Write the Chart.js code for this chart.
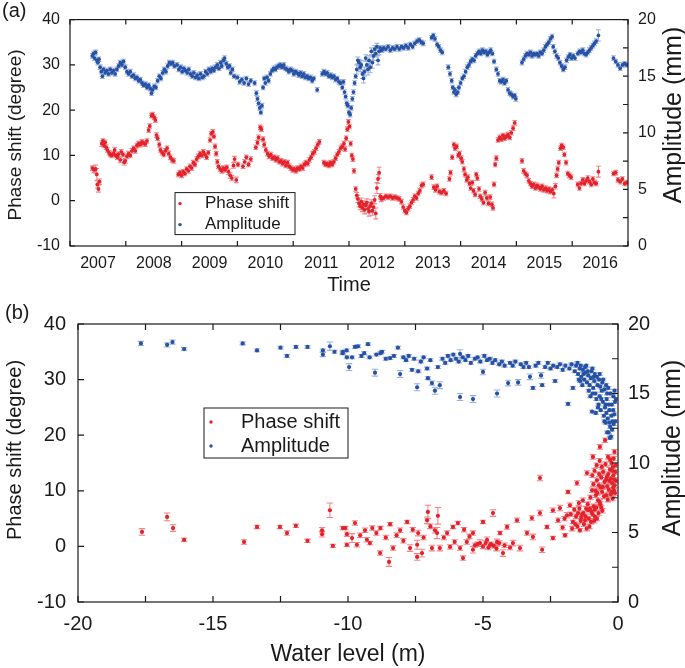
<!DOCTYPE html>
<html>
<head>
<meta charset="utf-8">
<script src="https://cdn.jsdelivr.net/npm/chart.js@4.4.1/dist/chart.umd.min.js"></script>
<style>
  body { margin: 0; background: #fff; }
  .panel { position: absolute; left: 0; width: 685px; }
  .tag { position: absolute; font: 20px "Liberation Sans", Arial, sans-serif; color: #1a1a1a; }
</style>
</head>
<body>
<div class="panel" style="top:0;height:300px"><canvas id="chartTime" width="685" height="300"></canvas></div>
<div class="panel" style="top:300px;height:368px"><canvas id="chartLevel" width="685" height="368"></canvas></div>
<div class="tag" style="left:2px;top:-1px">(a)</div>
<div class="tag" style="left:5px;top:301px">(b)</div>
<script>
// (a) phase shift vs time: [year, degree, error]
const phaseTime = [
  [2007.40,7.2,0.5],[2007.43,6.8,0.6],[2007.46,7.0,0.9],[2007.48,5.8,1.3],[2007.49,3.6,0.8],[2007.51,2.6,0.7],[2007.53,4.2,0.6],
  [2007.57,12.6,0.6],[2007.59,13.2,0.5],[2007.61,12.2,0.5],[2007.63,12.9,0.5],[2007.65,11.8,0.5],[2007.67,11.2,0.5],[2007.70,10.6,0.5],
  [2007.72,10.2,0.5],[2007.75,10.0,0.5],[2007.78,10.4,0.5],[2007.80,11.2,0.6],[2007.82,10.0,0.5],[2007.85,9.6,0.5],[2007.87,10.3,0.5],
  [2007.90,9.0,0.6],[2007.92,10.8,0.5],[2007.95,10.2,0.5],[2007.97,8.5,0.6],[2007.99,8.8,0.5],
  [2008.02,9.8,0.5],[2008.05,10.4,0.5],[2008.08,10.0,0.5],[2008.11,11.0,0.5],[2008.14,11.6,0.5],[2008.17,11.0,0.5],[2008.20,12.2,0.5],
  [2008.23,12.6,0.5],[2008.26,12.4,0.5],[2008.29,13.0,0.5],[2008.32,12.7,0.5],[2008.35,12.5,0.5],[2008.38,13.2,0.5],[2008.41,15.6,0.5],
  [2008.43,16.5,0.5],[2008.46,18.8,0.5],[2008.48,19.0,0.5],[2008.51,18.4,0.5],[2008.53,17.8,0.5],[2008.55,14.5,0.5],[2008.57,13.8,0.5],
  [2008.60,12.4,0.5],[2008.62,11.2,0.5],[2008.65,10.6,0.5],[2008.68,10.2,0.5],[2008.71,11.0,0.5],[2008.74,11.6,0.5],[2008.77,10.4,0.5],
  [2008.80,9.6,0.5],[2008.83,9.0,0.5],[2008.86,8.8,0.5],
  [2008.94,5.8,0.5],[2008.97,6.2,0.5],[2009.00,5.6,0.5],[2009.03,6.4,0.5],[2009.06,6.0,0.5],[2009.09,7.0,0.5],[2009.12,6.6,0.5],
  [2009.15,7.6,0.5],[2009.18,7.2,0.5],[2009.21,8.4,0.5],[2009.24,8.0,0.5],[2009.27,9.2,0.5],[2009.30,9.8,0.5],[2009.33,10.4,0.5],
  [2009.36,10.0,0.5],[2009.39,10.8,0.5],[2009.42,10.2,0.5],[2009.45,9.6,0.5],[2009.48,10.6,0.5],[2009.51,13.4,0.5],[2009.53,14.8,0.5],
  [2009.56,15.2,0.5],[2009.58,14.2,0.5],[2009.60,12.0,0.5],[2009.62,10.4,0.5],[2009.64,8.6,0.5],[2009.66,7.6,0.5],[2009.69,7.0,0.5],
  [2009.72,6.6,0.5],[2009.75,7.2,0.5],[2009.78,6.8,0.5],[2009.81,7.4,0.5],[2009.84,6.4,0.6],[2009.87,5.6,0.6],[2009.90,5.0,0.6],
  [2009.93,7.8,0.6],[2009.95,9.2,0.6],[2009.98,4.6,0.6],[2010.01,8.0,0.5],
  [2010.10,7.6,0.5],[2010.13,8.6,0.5],[2010.16,9.6,0.5],[2010.20,8.0,0.5],[2010.24,9.2,0.5],
  [2010.33,11.8,0.5],[2010.36,12.8,0.5],[2010.38,14.0,0.5],[2010.41,16.2,0.5],[2010.43,15.8,0.5],[2010.46,13.6,0.5],[2010.48,12.4,0.5],
  [2010.51,11.2,0.5],[2010.54,10.4,0.5],[2010.57,9.8,0.5],[2010.60,10.2,0.5],[2010.63,9.4,0.5],[2010.66,9.6,0.5],[2010.69,9.0,0.5],
  [2010.72,9.4,0.5],[2010.75,8.6,0.5],[2010.78,8.8,0.5],[2010.81,8.2,0.5],[2010.84,8.6,0.5],[2010.87,7.8,0.5],[2010.90,8.4,0.5],
  [2010.93,7.6,0.5],[2010.96,7.2,0.5],[2010.99,6.8,0.5],[2011.02,7.0,0.5],[2011.05,6.6,0.5],[2011.08,7.2,0.5],[2011.11,7.0,0.5],
  [2011.14,7.6,0.5],[2011.17,7.2,0.5],[2011.20,8.0,0.5],[2011.23,8.4,0.5],[2011.26,8.2,0.5],[2011.29,9.0,0.5],[2011.32,9.6,0.5],
  [2011.35,10.4,0.5],[2011.38,10.8,0.5],[2011.41,11.6,0.5],[2011.44,12.4,0.5],[2011.47,13.0,0.5],
  [2011.55,8.4,0.5],[2011.58,8.0,0.5],[2011.61,8.2,0.5],[2011.64,7.8,0.5],[2011.67,8.4,0.5],[2011.70,8.0,0.5],[2011.73,8.6,0.5],
  [2011.76,9.4,0.5],[2011.79,10.2,0.5],[2011.82,10.8,0.5],[2011.85,11.6,0.5],[2011.88,12.0,0.5],[2011.91,12.6,0.5],[2011.93,11.4,0.5],
  [2011.95,13.8,0.5],[2011.97,15.8,0.5],[2011.99,17.4,0.5],[2012.01,16.4,0.5],[2012.03,12.6,0.5],[2012.05,10.0,0.5],[2012.07,9.2,0.5],
  [2012.09,6.6,0.5],[2012.12,2.6,0.5],[2012.14,1.2,0.6],
  [2012.16,0.4,0.8],[2012.18,-0.6,0.8],[2012.20,-1.2,0.8],[2012.22,-0.2,0.8],[2012.24,-1.6,0.8],[2012.26,-0.8,0.8],[2012.28,-2.0,0.9],
  [2012.30,-1.0,0.8],[2012.32,-0.4,0.8],[2012.34,-1.8,0.9],[2012.36,-2.4,1.0],[2012.38,-1.2,0.9],[2012.40,-0.6,0.8],[2012.42,-2.2,1.0],
  [2012.44,-1.4,1.2],[2012.46,0.2,0.9],[2012.48,-2.8,1.2],[2012.50,2.8,1.2],[2012.52,4.8,1.0],[2012.54,6.2,1.2],[2012.56,1.0,0.6],
  [2012.58,0.4,0.6],
  [2012.62,0.6,0.5],[2012.66,1.0,0.5],[2012.70,0.8,0.5],[2012.74,1.0,0.5],[2012.78,0.6,0.5],[2012.82,0.8,0.5],[2012.86,0.6,0.5],
  [2012.90,0.4,0.5],[2012.94,-0.2,0.5],[2012.97,-1.4,0.5],[2013.00,-2.2,0.5],[2013.03,-2.6,0.5],[2013.06,-1.8,0.5],[2013.09,-1.2,0.5],
  [2013.12,-0.4,0.5],[2013.15,0.2,0.5],[2013.18,1.0,0.5],[2013.21,0.6,0.5],[2013.24,1.6,0.5],[2013.27,2.2,0.5],[2013.30,3.4,0.5],
  [2013.33,3.6,0.5],
  [2013.48,5.2,0.5],[2013.52,3.0,0.5],[2013.55,2.4,0.5],[2013.58,3.2,0.5],[2013.62,2.0,0.5],[2013.66,1.8,0.5],[2013.70,2.2,0.5],
  [2013.74,1.6,0.5],
  [2013.80,4.8,0.5],[2013.82,6.2,0.5],[2013.85,9.6,0.5],[2013.88,12.4,0.5],[2013.90,11.6,0.5],[2013.93,12.0,0.5],[2013.96,10.0,0.5],
  [2013.98,10.4,0.5],[2014.01,9.4,0.5],[2014.03,8.6,0.5],[2014.06,7.0,0.5],[2014.08,5.8,0.5],[2014.11,4.6,0.5],[2014.13,5.2,0.5],
  [2014.16,3.8,0.5],[2014.18,2.8,0.5],[2014.21,4.0,0.5],[2014.23,2.2,0.5],[2014.26,1.4,0.5],[2014.28,5.8,0.5],[2014.30,5.0,0.5],
  [2014.33,2.6,0.5],[2014.35,1.0,0.5],[2014.38,0.4,0.5],[2014.41,-0.4,0.5],[2014.44,1.8,0.5],[2014.47,0.6,0.5],[2014.50,-0.6,0.5],
  [2014.53,0.8,0.5],[2014.56,-0.8,0.5],[2014.58,-1.6,0.5],[2014.60,3.6,0.5],[2014.62,8.0,0.5],[2014.64,9.4,0.5],
  [2014.67,13.4,0.5],[2014.70,14.0,0.5],[2014.73,13.6,0.5],[2014.76,14.4,0.5],[2014.79,13.8,0.5],[2014.82,14.2,0.5],[2014.85,14.6,0.5],
  [2014.88,14.0,0.5],[2014.91,15.0,0.5],[2014.94,16.0,0.5],[2014.97,17.2,0.5],
  [2015.10,8.8,0.5],[2015.13,6.6,0.5],[2015.16,6.0,0.5],[2015.19,5.6,0.5],[2015.22,4.4,0.5],[2015.25,3.8,0.5],[2015.28,3.2,0.5],
  [2015.31,3.6,0.5],[2015.34,2.8,0.5],[2015.37,3.4,0.5],[2015.40,3.0,0.5],[2015.43,2.6,0.5],[2015.46,3.2,0.5],[2015.49,2.4,0.5],
  [2015.52,2.8,0.5],[2015.55,2.2,0.5],[2015.58,2.6,0.5],[2015.61,2.0,0.5],[2015.64,2.4,0.5],[2015.67,1.6,1.0],[2015.70,3.2,0.6],
  [2015.72,5.6,0.5],[2015.74,7.0,0.5],[2015.76,8.4,0.5],[2015.79,11.6,0.5],[2015.81,12.2,0.5],[2015.84,11.8,0.5],[2015.86,10.2,0.5],
  [2015.89,8.4,0.5],[2015.92,6.0,0.5],[2015.95,5.6,0.5],[2015.98,5.2,0.5],
  [2016.10,3.6,0.5],[2016.13,2.8,0.5],[2016.16,3.8,0.5],[2016.19,4.6,0.5],[2016.22,3.8,0.5],[2016.25,4.4,0.5],[2016.28,5.0,0.5],
  [2016.31,4.2,0.5],[2016.34,3.6,0.5],[2016.37,4.8,0.5],[2016.40,4.0,0.5],[2016.43,3.8,0.5],[2016.47,6.4,1.2],
  [2016.74,6.0,0.5],[2016.78,6.2,0.5],[2016.82,4.6,0.5],[2016.86,4.2,0.5],[2016.90,4.8,0.5],[2016.94,3.8,0.5],[2016.98,4.0,0.5]
];

// (a) amplitude vs time: [year, mm, error]
const ampTime = [
  [2007.40,16.8,0.2],[2007.42,17.0,0.2],[2007.44,16.6,0.2],[2007.46,17.1,0.2],[2007.48,16.4,0.2],[2007.50,16.2,0.2],[2007.52,16.5,0.2],
  [2007.54,15.8,0.2],[2007.56,15.4,0.2],[2007.58,15.0,0.2],[2007.60,15.6,0.2],[2007.63,15.3,0.2],[2007.66,15.5,0.2],[2007.69,15.2,0.2],
  [2007.72,15.6,0.2],[2007.75,15.3,0.2],[2007.78,15.5,0.2],[2007.81,15.2,0.2],[2007.84,15.6,0.2],[2007.87,15.9,0.2],[2007.90,16.2,0.2],
  [2007.93,16.0,0.2],[2007.96,16.3,0.2],[2007.99,15.8,0.2],
  [2008.02,15.4,0.2],[2008.05,15.2,0.2],[2008.08,15.4,0.2],[2008.11,15.0,0.2],[2008.14,15.1,0.2],[2008.17,14.8,0.2],[2008.20,14.9,0.2],
  [2008.23,14.6,0.2],[2008.26,14.7,0.2],[2008.29,14.4,0.2],[2008.32,14.2,0.2],[2008.35,14.3,0.2],[2008.38,14.0,0.2],[2008.41,14.2,0.2],
  [2008.44,13.9,0.2],[2008.46,13.5,0.2],[2008.48,13.8,0.2],[2008.51,14.1,0.2],[2008.54,14.0,0.2],[2008.57,14.6,0.2],[2008.60,15.0,0.2],
  [2008.63,14.8,0.2],[2008.66,15.3,0.2],[2008.69,15.6,0.2],[2008.72,15.4,0.2],[2008.75,15.9,0.2],[2008.78,16.2,0.2],[2008.81,16.1,0.2],
  [2008.84,16.2,0.2],[2008.87,15.9,0.2],
  [2008.92,16.0,0.2],[2008.95,15.6,0.2],[2008.98,15.8,0.2],[2009.01,15.4,0.2],[2009.04,15.7,0.2],[2009.07,15.5,0.2],[2009.10,15.3,0.2],
  [2009.13,15.6,0.2],[2009.16,15.2,0.2],[2009.19,15.0,0.2],[2009.22,15.3,0.2],[2009.25,14.9,0.2],[2009.28,15.1,0.2],[2009.31,14.8,0.2],
  [2009.34,15.2,0.2],[2009.37,14.9,0.2],[2009.40,15.0,0.2],[2009.43,15.4,0.2],[2009.46,15.2,0.2],[2009.49,15.6,0.2],[2009.52,15.4,0.2],
  [2009.55,15.7,0.2],[2009.58,15.5,0.2],[2009.61,15.8,0.2],[2009.64,16.0,0.2],[2009.67,15.7,0.2],[2009.70,16.2,0.2],[2009.72,15.9,0.2],
  [2009.75,16.4,0.2],[2009.77,16.6,0.2],[2009.80,16.1,0.2],[2009.83,15.8,0.2],[2009.86,15.9,0.2],[2009.88,15.3,0.2],[2009.91,15.6,0.2],
  [2009.94,15.0,0.2],
  [2010.00,14.9,0.2],[2010.04,14.5,0.2],[2010.08,14.7,0.2],[2010.12,14.4,0.2],[2010.16,14.8,0.2],[2010.20,14.3,0.2],[2010.24,14.6,0.2],
  [2010.31,14.4,0.2],[2010.34,13.5,0.2],[2010.36,13.0,0.2],[2010.38,12.6,0.2],[2010.40,12.2,0.2],[2010.42,11.8,0.2],[2010.44,12.4,0.2],
  [2010.46,14.0,0.2],[2010.48,14.8,0.2],[2010.50,14.4,0.2],[2010.53,14.9,0.2],[2010.56,14.6,0.2],[2010.59,15.2,0.2],[2010.62,15.5,0.2],
  [2010.65,15.7,0.2],[2010.68,15.6,0.2],[2010.71,15.8,0.2],[2010.74,15.9,0.2],[2010.77,16.0,0.2],[2010.80,15.8,0.2],[2010.83,16.0,0.2],
  [2010.86,15.7,0.2],[2010.89,15.6,0.2],[2010.92,15.4,0.2],[2010.95,15.6,0.2],[2010.98,15.5,0.2],[2011.01,15.2,0.2],[2011.04,15.4,0.2],
  [2011.07,15.3,0.2],[2011.10,15.1,0.2],[2011.13,15.3,0.2],[2011.16,15.0,0.2],[2011.19,15.2,0.2],[2011.22,14.9,0.2],[2011.25,15.0,0.2],
  [2011.28,14.8,0.2],[2011.31,14.9,0.2],[2011.34,14.6,0.2],[2011.37,14.8,0.2],[2011.43,13.8,0.2],
  [2011.52,15.2,0.2],[2011.55,15.4,0.2],[2011.58,15.2,0.2],[2011.61,15.3,0.2],[2011.64,15.0,0.2],[2011.67,15.1,0.2],[2011.70,14.9,0.2],
  [2011.73,15.0,0.2],[2011.76,14.7,0.2],[2011.79,14.8,0.2],[2011.82,14.5,0.2],[2011.85,14.4,0.2],[2011.88,14.0,0.2],[2011.90,14.5,0.2],
  [2011.92,13.6,0.2],[2011.94,13.2,0.2],[2011.96,12.6,0.2],[2011.98,12.4,0.2],[2012.00,11.8,0.2],[2012.02,11.6,0.2],[2012.04,12.2,0.2],
  [2012.06,13.0,0.2],[2012.08,13.6,0.2],[2012.10,14.4,0.2],[2012.12,15.0,0.2],
  [2012.14,15.6,0.4],[2012.16,16.4,0.3],[2012.18,16.2,0.3],[2012.20,15.8,0.4],[2012.22,16.0,0.4],[2012.24,15.2,0.4],[2012.26,14.8,0.4],
  [2012.28,15.4,0.4],[2012.30,16.6,0.3],[2012.32,16.0,0.4],[2012.34,15.6,0.5],[2012.36,16.4,0.4],[2012.38,15.8,0.5],[2012.40,17.2,0.3],
  [2012.42,16.2,0.5],[2012.44,16.8,0.4],[2012.46,17.4,0.3],[2012.48,17.0,0.3],[2012.50,17.6,0.3],[2012.52,16.4,0.4],[2012.54,17.2,0.3],
  [2012.56,17.5,0.2],[2012.59,17.3,0.2],
  [2012.62,17.5,0.2],[2012.66,17.4,0.2],[2012.70,17.6,0.2],[2012.74,17.3,0.2],[2012.78,17.5,0.2],[2012.82,17.4,0.2],[2012.86,17.6,0.2],
  [2012.90,17.4,0.2],[2012.94,17.6,0.2],[2012.98,17.5,0.2],[2013.02,17.7,0.2],[2013.06,17.5,0.2],[2013.10,17.8,0.2],[2013.14,17.6,0.2],
  [2013.18,17.9,0.2],[2013.22,18.1,0.2],[2013.26,18.2,0.2],[2013.30,18.0,0.2],[2013.33,17.9,0.2],
  [2013.48,18.4,0.2],[2013.51,18.6,0.2],[2013.54,18.3,0.2],[2013.58,17.8,0.2],[2013.61,17.6,0.2],[2013.64,17.3,0.2],[2013.67,17.1,0.2],
  [2013.78,15.8,0.2],[2013.81,15.2,0.2],[2013.84,14.6,0.2],[2013.86,14.0,0.2],[2013.88,13.6,0.2],[2013.90,13.8,0.2],[2013.92,13.4,0.2],
  [2013.95,13.6,0.2],[2013.97,14.0,0.2],[2014.00,14.4,0.2],[2014.03,14.8,0.2],[2014.06,15.0,0.2],[2014.09,15.4,0.2],[2014.12,15.8,0.2],
  [2014.15,16.0,0.2],[2014.18,16.3,0.2],[2014.21,16.5,0.2],[2014.24,16.4,0.2],[2014.27,16.8,0.2],[2014.30,17.0,0.2],[2014.33,17.2,0.2],
  [2014.36,17.0,0.2],[2014.39,17.3,0.2],[2014.42,17.1,0.2],[2014.45,17.2,0.2],[2014.48,16.9,0.2],[2014.51,17.1,0.2],[2014.54,17.3,0.2],
  [2014.57,17.0,0.2],[2014.60,16.3,0.2],
  [2014.64,15.6,0.2],[2014.67,15.2,0.2],[2014.70,14.6,0.2],[2014.73,14.5,0.2],[2014.76,14.7,0.2],[2014.79,14.4,0.2],[2014.82,14.6,0.2],
  [2014.85,13.8,0.2],[2014.88,13.5,0.2],[2014.91,13.4,0.2],[2014.94,13.2,0.2],[2014.97,13.3,0.2],[2014.99,13.0,0.2],
  [2015.10,16.2,0.2],[2015.13,16.5,0.2],[2015.16,16.8,0.2],[2015.19,17.0,0.2],[2015.22,16.9,0.2],[2015.25,17.1,0.2],[2015.28,16.8,0.2],
  [2015.31,17.0,0.2],[2015.34,16.9,0.2],[2015.37,17.0,0.2],[2015.40,16.8,0.2],[2015.43,17.1,0.2],[2015.46,17.0,0.2],[2015.49,17.3,0.2],
  [2015.52,17.6,0.2],[2015.55,17.8,0.2],[2015.58,18.0,0.2],[2015.61,18.3,0.2],[2015.64,18.5,0.2],[2015.66,17.6,0.2],[2015.69,17.2,0.2],
  [2015.72,16.8,0.2],[2015.75,16.6,0.2],[2015.78,16.2,0.2],[2015.81,15.9,0.2],[2015.84,15.6,0.2],[2015.87,15.8,0.2],[2015.90,16.4,0.2],
  [2015.93,16.7,0.2],[2015.96,16.9,0.2],[2015.99,16.6,0.2],[2016.02,16.8,0.2],[2016.05,16.6,0.2],
  [2016.10,17.0,0.2],[2016.13,17.2,0.2],[2016.16,17.1,0.2],[2016.19,17.3,0.2],[2016.22,17.0,0.2],[2016.25,16.9,0.2],[2016.28,17.1,0.2],
  [2016.31,17.3,0.2],[2016.34,17.5,0.2],[2016.37,17.7,0.2],[2016.40,17.9,0.2],[2016.43,18.1,0.2],[2016.47,18.6,0.5],
  [2016.74,16.6,0.2],[2016.78,16.3,0.2],[2016.82,16.0,0.2],[2016.86,15.7,0.2],[2016.90,16.0,0.2],[2016.94,16.1,0.2],[2016.98,16.0,0.2]
];

// (b) phase shift vs water level: [m, degree, error]
const phaseLevel = [
  [-17.63,2.6,0.6],[-16.70,5.3,0.7],[-16.48,3.3,0.6],[-16.07,1.2,0.3],[-13.85,0.8,0.4],[-13.37,3.5,0.3],[-12.52,3.5,0.3],
  [-12.26,2.4,0.4],[-11.93,3.7,0.3],[-11.50,1.0,0.3],[-10.96,2.9,0.5],[-10.96,2.2,0.5],[-10.67,6.5,1.3],[-10.56,0.1,0.3],
  [-10.19,3.3,0.3],[-10.04,2.2,0.4],[-10.04,0.3,0.3],
  [-10.10,3.3,0.3],[-9.85,1.5,0.8],[-9.74,4.2,0.4],[-9.67,0.3,0.4],[-9.55,2.0,0.4],[-9.37,2.9,0.4],[-9.30,1.2,0.4],[-9.19,0.6,0.3],
  [-9.10,3.3,0.4],[-8.95,2.4,0.4],[-8.81,-1.2,0.4],[-8.80,3.3,0.3],[-8.60,1.6,0.4],[-8.48,-2.8,0.8],[-8.44,4.0,0.3],[-8.33,-0.3,0.4],
  [-8.20,2.0,0.4],[-8.07,2.9,0.4],[-7.95,1.0,0.4],[-7.81,4.4,0.3],[-7.70,-0.3,0.6],[-7.60,3.0,0.4],[-7.44,0.3,0.8],[-7.44,-1.9,0.6],
  [-7.40,2.4,0.5],[-7.26,-1.2,0.7],[-7.20,1.6,0.4],[-7.07,4.7,0.6],[-7.04,6.2,1.2],[-6.95,3.6,0.4],[-6.89,-0.3,0.5],[-6.78,2.9,0.5],
  [-6.70,2.4,1.0],[-6.67,5.5,1.5],[-6.60,-0.3,0.5],[-6.45,1.6,0.4],[-6.33,2.4,0.4],[-6.22,-0.1,0.4],[-6.11,3.5,0.3],[-6.05,0.8,0.4],
  [-5.93,4.2,0.3],[-5.85,-0.3,0.4],[-5.74,-2.1,0.4],[-5.70,3.0,0.4],[-5.60,0.8,0.4],[-5.50,1.8,0.4],[-5.37,-0.6,0.6],[-5.37,2.4,0.4],
  [-5.30,0.2,0.4],[-5.20,0.4,0.4],[-5.11,0.6,0.6],[-5.00,4.4,0.3],[-5.00,0.0,0.4],[-4.90,0.6,0.4],[-4.85,1.2,0.5],[-4.80,-0.2,0.4],
  [-4.74,0.3,0.5],[-4.70,0.4,0.4],[-4.63,6.0,0.6],[-4.60,0.1,0.4],[-4.50,-0.4,0.4],[-4.48,0.8,0.5],[-4.40,0.6,0.4],[-4.37,2.4,0.3],
  [-4.26,-1.2,0.6],[-4.20,0.2,0.4],[-4.11,3.5,0.4],[-4.00,-0.2,0.4],[-3.89,0.6,0.5],[-3.74,4.7,0.4],[-3.63,-0.3,0.5],[-3.37,2.4,0.4],
  [-3.19,5.1,0.4],[-3.15,1.7,0.5],[-2.89,12.3,0.5],[-2.89,6.0,0.5],[-2.81,-0.6,0.5],[-2.63,3.5,0.3],[-2.41,1.5,0.3],[-2.41,6.5,0.4],
  [-2.22,4.7,0.4],[-2.15,6.9,0.5],[-2.05,3.4,0.4],[-1.98,5.0,0.4],[-1.96,2.0,0.3],[-1.89,5.6,0.5],[-1.85,9.8,0.3],[-1.78,7.4,0.4],
  [-1.75,5.8,0.4],[-1.70,3.2,0.4],[-1.67,4.4,0.3],[-1.62,6.6,0.4],[-1.58,4.0,0.4],[-1.55,5.4,0.4],[-1.52,11.4,0.4],[-1.50,3.6,0.4],
  [-1.48,6.0,0.4],[-1.45,7.8,0.4],[-1.43,6.8,0.4],[-1.41,2.9,0.3],[-1.38,4.6,0.4],[-1.36,5.2,0.4],[-1.33,5.8,0.4],[-1.30,8.3,0.4],
  [-1.28,6.0,0.4],[-1.26,4.0,0.4],[-1.22,4.7,0.3],[-1.20,5.4,0.4],[-1.18,6.8,0.4],[-1.16,3.2,0.4],[-1.15,13.2,0.4],[-1.12,7.6,0.4],
  [-1.11,6.5,0.3],[-1.08,5.0,0.4],[-1.06,3.6,0.4],[-1.04,6.8,0.4],[-1.02,8.8,0.4],[-1.00,4.4,0.4],[-0.98,6.2,0.4],[-0.96,10.1,0.4],
  [-0.95,12.8,0.4],[-0.94,5.8,0.4],[-0.93,16.1,0.4],[-0.91,11.2,0.4],[-0.90,7.2,0.4],[-0.88,4.6,0.4],[-0.87,13.6,0.4],[-0.86,6.6,0.4],
  [-0.85,5.3,0.4],[-0.83,10.0,0.4],[-0.82,9.2,0.4],[-0.80,7.0,0.4],[-0.79,14.6,0.4],[-0.78,11.9,0.4],[-0.78,5.0,0.4],[-0.76,9.6,0.4],
  [-0.74,8.3,0.4],[-0.72,6.0,0.4],[-0.71,11.0,0.4],[-0.70,13.0,0.4],[-0.68,15.4,0.4],[-0.68,8.0,0.4],[-0.67,17.9,0.4],[-0.66,7.6,0.4],
  [-0.64,10.6,0.4],[-0.62,12.4,0.4],[-0.62,7.0,0.4],[-0.60,14.3,0.4],[-0.59,9.8,0.4],[-0.58,6.4,0.4],[-0.56,10.7,0.4],[-0.55,13.4,0.4],
  [-0.52,9.0,0.4],[-0.50,11.6,0.4],[-0.48,19.1,0.4],[-0.46,14.8,0.4],[-0.44,12.0,0.4],[-0.43,9.2,0.4],[-0.41,12.5,0.4],[-0.40,10.8,0.4],
  [-0.38,8.4,0.4],[-0.37,16.1,0.4],[-0.36,13.0,0.4],[-0.34,10.2,0.4],[-0.32,11.8,0.4],[-0.30,13.8,0.4],[-0.29,15.6,0.4],[-0.27,9.4,0.4],
  [-0.26,12.2,0.4],[-0.24,15.0,0.4],[-0.23,9.8,0.4],[-0.22,11.4,0.4],[-0.21,13.6,0.4],[-0.20,8.6,0.4],[-0.19,14.3,0.4],[-0.18,10.6,0.4],
  [-0.17,12.8,0.4],[-0.16,15.8,0.4],[-0.15,10.0,0.4],[-0.14,12.0,0.4],[-0.13,17.0,0.4],[-0.12,11.0,0.4],[-0.11,9.6,0.4],[-0.10,13.4,0.4],
  [-0.09,14.6,0.4],[-0.08,11.8,0.4]
];

// (b) amplitude vs water level: [m, mm, error]
const ampLevel = [
  [-17.67,18.6,0.15],[-16.70,18.5,0.15],[-16.50,18.7,0.15],[-16.07,18.2,0.1],[-13.90,18.6,0.1],[-13.37,18.1,0.1],[-12.50,18.3,0.1],
  [-12.26,17.7,0.1],[-11.93,18.35,0.1],[-11.50,18.35,0.1],[-10.93,18.1,0.1],[-10.93,17.8,0.15],[-10.67,18.4,0.3],[-10.50,18.0,0.1],
  [-10.19,18.0,0.1],[-10.04,17.6,0.1],[-9.96,16.9,0.25],
  [-10.20,17.9,0.1],[-10.05,18.1,0.1],[-9.85,17.6,0.1],[-9.74,18.35,0.1],[-9.63,18.4,0.1],[-9.50,17.7,0.1],[-9.40,17.9,0.1],
  [-9.26,18.55,0.1],[-9.20,17.6,0.1],[-9.00,16.5,0.25],[-8.95,17.8,0.1],[-8.80,17.9,0.1],[-8.74,18.0,0.1],[-8.60,17.5,0.1],
  [-8.44,17.55,0.1],[-8.30,17.7,0.1],[-8.15,18.3,0.1],[-8.07,16.4,0.25],[-7.95,17.6,0.1],[-7.85,17.4,0.1],[-7.75,17.7,0.1],
  [-7.63,16.7,0.1],[-7.55,17.5,0.1],[-7.44,15.45,0.25],[-7.40,16.6,0.1],[-7.30,17.3,0.1],[-7.20,17.6,0.1],[-7.07,16.8,0.1],
  [-7.04,16.1,0.1],[-6.95,17.4,0.1],[-6.89,15.75,0.15],[-6.78,15.2,0.25],[-6.67,16.9,0.1],[-6.60,15.6,0.25],[-6.50,17.5,0.1],
  [-6.40,17.2,0.1],[-6.30,17.7,0.1],[-6.20,17.4,0.1],[-6.10,17.8,0.1],[-6.00,17.5,0.1],[-5.90,17.3,0.1],[-5.85,17.85,0.3],
  [-5.85,14.75,0.25],[-5.75,17.6,0.1],[-5.65,17.4,0.1],[-5.55,17.7,0.1],[-5.45,17.2,0.1],[-5.37,14.6,0.25],[-5.30,17.5,0.1],
  [-5.20,17.6,0.1],[-5.10,17.3,0.1],[-5.00,16.55,0.2],[-4.95,17.7,0.1],[-4.85,17.4,0.1],[-4.75,17.5,0.1],[-4.65,17.2,0.1],
  [-4.55,17.4,0.1],[-4.48,15.0,0.25],[-4.40,17.1,0.1],[-4.30,17.3,0.1],[-4.20,17.0,0.1],[-4.07,15.75,0.2],[-4.00,17.2,0.1],
  [-3.90,17.0,0.1],[-3.80,17.3,0.1],[-3.70,15.8,0.2],[-3.60,17.1,0.1],[-3.50,16.9,0.1],[-3.40,17.2,0.1],[-3.30,16.9,0.1],
  [-3.26,16.2,0.2],[-3.15,15.4,0.1],[-3.05,17.0,0.1],[-2.95,17.2,0.1],[-2.85,16.3,0.2],[-2.81,15.6,0.1],[-2.70,16.9,0.1],
  [-2.60,17.2,0.1],[-2.50,16.8,0.1],[-2.40,17.0,0.1],[-2.33,15.9,0.1],[-2.25,16.9,0.1],[-2.15,17.1,0.1],[-2.05,16.7,0.1],
  [-1.95,17.0,0.1],[-1.85,14.25,0.1],[-1.80,16.8,0.1],[-1.72,17.1,0.1],[-1.67,15.4,0.1],[-1.60,16.6,0.1],[-1.55,17.0,0.1],
  [-1.50,17.2,0.1],[-1.48,16.4,0.1],[-1.45,16.0,0.1],[-1.42,16.8,0.1],[-1.40,15.9,0.1],[-1.38,17.0,0.1],[-1.36,16.2,0.1],
  [-1.32,15.6,0.1],[-1.30,16.7,0.1],[-1.28,16.4,0.1],[-1.25,16.0,0.1],[-1.22,16.9,0.1],[-1.20,16.5,0.1],[-1.18,17.0,0.1],
  [-1.15,15.8,0.1],[-1.12,16.6,0.1],[-1.10,16.3,0.1],[-1.08,15.2,0.1],[-1.05,15.6,0.1],[-1.02,14.8,0.1],[-1.00,16.1,0.1],
  [-0.98,16.6,0.1],[-0.96,13.7,0.1],[-0.95,16.8,0.1],[-0.94,15.0,0.1],[-0.92,15.4,0.1],[-0.90,16.2,0.1],[-0.88,15.9,0.1],
  [-0.86,16.4,0.1],[-0.84,15.0,0.1],[-0.82,13.6,0.1],[-0.80,14.6,0.1],[-0.78,16.2,0.1],[-0.76,15.6,0.1],[-0.74,14.0,0.1],
  [-0.72,14.2,0.1],[-0.70,16.0,0.1],[-0.68,14.8,0.1],[-0.68,16.4,0.1],[-0.66,15.5,0.1],[-0.64,13.8,0.1],[-0.62,14.6,0.1],
  [-0.60,15.2,0.1],[-0.58,15.8,0.1],[-0.56,14.4,0.1],[-0.55,16.0,0.1],[-0.52,13.4,0.1],[-0.50,15.3,0.1],[-0.50,13.0,0.1],
  [-0.48,14.0,0.1],[-0.46,14.2,0.1],[-0.45,12.9,0.1],[-0.44,15.6,0.1],[-0.43,13.6,0.1],[-0.42,14.6,0.1],[-0.40,12.2,0.1],
  [-0.40,15.0,0.1],[-0.38,13.2,0.1],[-0.36,15.4,0.1],[-0.35,12.2,0.1],[-0.34,14.2,0.1],[-0.32,13.8,0.1],[-0.31,12.9,0.1],
  [-0.30,11.8,0.1],[-0.29,12.6,0.1],[-0.28,15.0,0.1],[-0.26,11.9,0.1],[-0.25,13.4,0.1],[-0.23,14.2,0.1],[-0.22,12.4,0.1],
  [-0.20,13.0,0.1],[-0.18,13.8,0.1],[-0.17,14.8,0.1],[-0.16,12.8,0.1],[-0.14,13.5,0.1],[-0.13,15.2,0.1],[-0.11,14.4,0.1],
  [-0.10,13.0,0.1],[-0.08,14.6,0.1]
];

const seriesNames = ['Phase shift', 'Amplitude'];
const RED = '#e4222b';
const BLUE = '#2551a6';
const RED_ERR = 'rgba(228,34,43,0.55)';
const BLUE_ERR = 'rgba(37,81,166,0.45)';
const FONT = '"Liberation Sans", Arial, Helvetica, sans-serif';
const INK = '#1a1a1a';

Chart.defaults.font.family = FONT;
Chart.defaults.color = INK;

function toPoints(rows) {
  return rows.map(r => ({ x: r[0], y: r[1], e: r[2] }));
}

// vertical error bars with caps, drawn under the points
const errorBars = {
  id: 'errorBars',
  beforeDatasetsDraw(chart, args, opts) {
    const { ctx, chartArea: a } = chart;
    ctx.save();
    ctx.beginPath();
    ctx.rect(a.left, a.top, a.width, a.height);
    ctx.clip();
    chart.data.datasets.forEach((ds, i) => {
      const meta = chart.getDatasetMeta(i);
      const ys = chart.scales[ds.yAxisID];
      const c = opts.cap;
      ctx.strokeStyle = ds.errorColor;
      ctx.lineWidth = 1.1;
      ctx.beginPath();
      meta.data.forEach((el, j) => {
        const d = ds.data[j];
        const y1 = ys.getPixelForValue(d.y + d.e);
        const y2 = ys.getPixelForValue(d.y - d.e);
        ctx.moveTo(el.x, y1); ctx.lineTo(el.x, y2);
        ctx.moveTo(el.x - c, y1); ctx.lineTo(el.x + c, y1);
        ctx.moveTo(el.x - c, y2); ctx.lineTo(el.x + c, y2);
      });
      ctx.stroke();
    });
    ctx.restore();
  }
};

// box frame, inward ticks, y titles and the boxed legend
const frame = {
  id: 'frame',
  afterDraw(chart, args, opts) {
    const { ctx, chartArea: a, scales } = chart;
    const L = opts.tick;
    ctx.save();
    ctx.strokeStyle = INK;
    ctx.lineWidth = 1.2;
    ctx.strokeRect(a.left, a.top, a.width, a.height);
    ctx.beginPath();
    scales.x.ticks.forEach(t => {
      const x = scales.x.getPixelForValue(t.value);
      ctx.moveTo(x, a.bottom); ctx.lineTo(x, a.bottom - L);
      ctx.moveTo(x, a.top); ctx.lineTo(x, a.top + L);
    });
    scales.y.ticks.forEach(t => {
      const y = scales.y.getPixelForValue(t.value);
      ctx.moveTo(a.left, y); ctx.lineTo(a.left + L, y);
    });
    scales.y2.ticks.forEach(t => {
      const y = scales.y2.getPixelForValue(t.value);
      ctx.moveTo(a.right, y); ctx.lineTo(a.right - L, y);
    });
    ctx.stroke();

    // rotated y titles, both reading bottom to top
    ctx.fillStyle = INK;
    ctx.textAlign = 'center';
    ctx.textBaseline = 'middle';
    opts.titles.forEach(t => {
      ctx.save();
      ctx.translate(t.x, t.y);
      ctx.rotate(-Math.PI / 2);
      ctx.font = t.size + 'px ' + FONT;
      ctx.fillText(t.text, 0, 0);
      ctx.restore();
    });

    // legend box
    const g = opts.legend;
    const bx = a.left + g.dx, by = a.top + g.dy;
    ctx.fillStyle = '#fff';
    ctx.fillRect(bx, by, g.w, g.h);
    ctx.lineWidth = 1;
    ctx.strokeRect(bx, by, g.w, g.h);
    ctx.font = g.size + 'px ' + FONT;
    ctx.textAlign = 'left';
    chart.data.datasets.forEach((ds, i) => {
      const ry = by + g.rows[i];
      ctx.fillStyle = ds.backgroundColor;
      ctx.beginPath();
      ctx.arc(bx + g.mark, ry, 1.7, 0, Math.PI * 2);
      ctx.fill();
      ctx.fillStyle = INK;
      ctx.fillText(ds.label, bx + g.text, ry);
    });
    ctx.restore();
  }
};

function makeDatasets(phaseRows, ampRows, radius) {
  return [
    { label: seriesNames[0], data: toPoints(phaseRows), yAxisID: 'y', backgroundColor: RED, errorColor: RED_ERR,
      pointRadius: radius, borderWidth: 0, pointHoverRadius: radius },
    { label: seriesNames[1], data: toPoints(ampRows), yAxisID: 'y2', backgroundColor: BLUE, errorColor: BLUE_ERR,
      pointRadius: radius, borderWidth: 0, pointHoverRadius: radius }
  ];
}

const noGrid = { display: false, drawTicks: false };

// panel (a)
new Chart(document.getElementById('chartTime'), {
  type: 'scatter',
  data: { datasets: makeDatasets(phaseTime, ampTime, 1.9) },
  options: {
    responsive: false,
    animation: false,
    devicePixelRatio: 1,
    layout: { padding: { top: 16, left: 0, right: 0, bottom: 0 } },
    plugins: {
      legend: { display: false },
      tooltip: { enabled: false },
      errorBars: { cap: 2.4 },
      frame: {
        tick: 5,
        titles: [
          { text: 'Phase shift (degree)', x: 16, y: 135, size: 19 },
          { text: 'Amplitude (mm)', x: 674, y: 115, size: 25 }
        ],
        legend: { dx: 105, dy: 173, w: 120, h: 42, size: 17, mark: 5, text: 30, rows: [11, 32] }
      }
    },
    scales: {
      x: {
        type: 'linear', min: 2007, max: 2017,
        grid: noGrid, border: { display: false },
        afterFit: s => { s.height = 54; },
        ticks: { stepSize: 1, autoSkip: false, maxRotation: 0, labelOffset: 28, padding: 8,
          font: { size: 16 }, callback: v => (v < 2017 ? String(v) : '') },
        title: { display: true, text: 'Time', font: { size: 20 }, padding: { top: 0, bottom: 3 } }
      },
      y: {
        position: 'left', min: -10, max: 40,
        grid: noGrid, border: { display: false },
        afterFit: s => { s.width = 70; },
        ticks: { stepSize: 10, padding: 10, font: { size: 16 } }
      },
      y2: {
        position: 'right', min: 0, max: 20,
        grid: noGrid, border: { display: false },
        afterFit: s => { s.width = 57; },
        ticks: { stepSize: 2.5, autoSkip: false, padding: 10, font: { size: 16 },
          callback: v => (v % 5 === 0 ? String(v) : '') }
      }
    }
  },
  plugins: [errorBars, frame]
});

// panel (b)
new Chart(document.getElementById('chartLevel'), {
  type: 'scatter',
  data: { datasets: makeDatasets(phaseLevel, ampLevel, 2.1) },
  options: {
    responsive: false,
    animation: false,
    devicePixelRatio: 1,
    layout: { padding: { top: 24, left: 0, right: 0, bottom: 0 } },
    plugins: {
      legend: { display: false },
      tooltip: { enabled: false },
      errorBars: { cap: 3.2 },
      frame: {
        tick: 6,
        titles: [
          { text: 'Phase shift (degree)', x: 15, y: 150, size: 20 },
          { text: 'Amplitude (mm)', x: 673, y: 148, size: 25 }
        ],
        legend: { dx: 126, dy: 84, w: 144, h: 50, size: 20, mark: 7, text: 37, rows: [14, 38] }
      }
    },
    scales: {
      x: {
        type: 'linear', min: -20, max: 0,
        grid: noGrid, border: { display: false },
        afterFit: s => { s.height = 66; },
        ticks: { stepSize: 2.5, autoSkip: false, maxRotation: 0, padding: 10, font: { size: 20 },
          callback: v => (v % 5 === 0 ? String(v) : '') },
        title: { display: true, text: 'Water level (m)', font: { size: 23 }, padding: { top: 0, bottom: 0 } }
      },
      y: {
        position: 'left', min: -10, max: 40,
        grid: noGrid, border: { display: false },
        afterFit: s => { s.width = 78; },
        ticks: { stepSize: 10, padding: 12, font: { size: 20 } }
      },
      y2: {
        position: 'right', min: 0, max: 20,
        grid: noGrid, border: { display: false },
        afterFit: s => { s.width = 67; },
        ticks: { stepSize: 2.5, autoSkip: false, padding: 10, font: { size: 20 },
          callback: v => (v % 5 === 0 ? String(v) : '') }
      }
    }
  },
  plugins: [errorBars, frame]
});
</script>
</body>
</html>
